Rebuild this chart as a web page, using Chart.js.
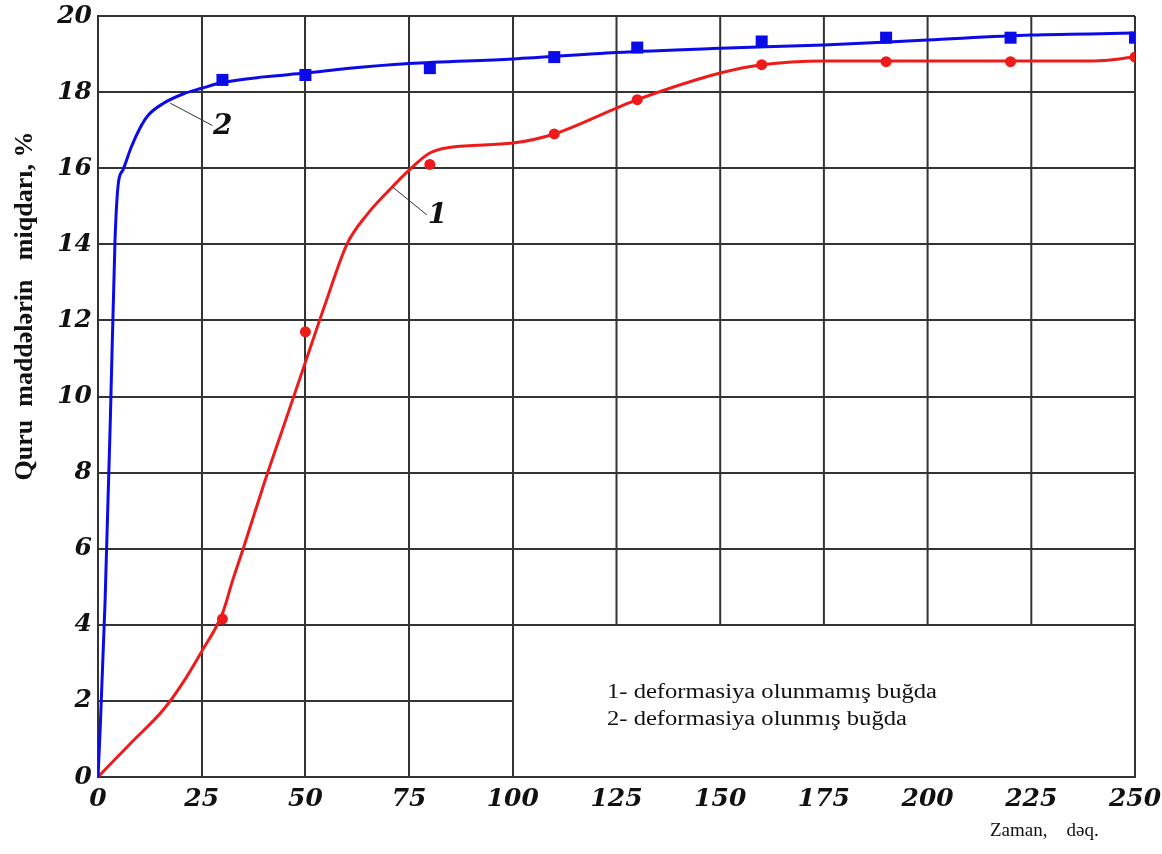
<!DOCTYPE html>
<html>
<head>
<meta charset="utf-8">
<script src="https://cdn.jsdelivr.net/npm/chart.js@4.4.1/dist/chart.umd.min.js"></script>
<style>
  html, body { margin: 0; padding: 0; background: #fff; }
  #chart { display: block; }
</style>
</head>
<body>
<canvas id="chart" width="1162" height="854"></canvas>
<script>
// tick labels
const xTicks = [0, 25, 50, 75, 100, 125, 150, 175, 200, 225, 250];
const yTicks = [0, 2, 4, 6, 8, 10, 12, 14, 16, 18, 20];

// measured points (both curves share the same times)
const markX = [30, 50, 80, 110, 130, 160, 190, 220, 250];
const markY1 = [4.15, 11.7, 16.1, 16.9, 17.8, 18.72, 18.8, 18.8, 18.92];
const markY2 = [18.32, 18.45, 18.63, 18.92, 19.17, 19.33, 19.43, 19.43, 19.43];

// curve 1 - deformasiya olunmamış buğda
const curveX1 = [0, 8, 15.7, 20, 25, 30, 32.5, 35, 40, 45, 50, 55, 60, 65, 70, 75, 80, 85, 100, 110, 125, 130, 150, 160, 175, 240, 250];
const curveY1 = [0, 0.9, 1.76, 2.4, 3.3, 4.3, 5.18, 6.0, 7.7, 9.3, 10.9, 12.5, 14.0, 14.8, 15.4, 15.95, 16.4, 16.55, 16.66, 16.9, 17.58, 17.8, 18.5, 18.72, 18.82, 18.82, 18.92];

// curve 2 - deformasiya olunmış buğda
const curveX2 = [0, 0.5, 1.7, 3, 4.1, 4.9, 6, 8, 10.1, 12, 15.7, 20.5, 25, 30, 40, 50, 60, 75, 100, 125, 150, 175, 200, 225, 250];
const curveY2 = [0, 1.2, 4.6, 9.5, 14.1, 15.6, 15.95, 16.55, 17.05, 17.38, 17.7, 17.95, 18.1, 18.25, 18.4, 18.5, 18.62, 18.75, 18.87, 19.04, 19.15, 19.24, 19.37, 19.5, 19.55];

const RED = "#ee1b1b";
const BLUE = "#0b0be8";
const GRID = "#333";

const zip = (xs, ys) => xs.map((x, i) => ({ x, y: ys[i] }));

// drop the extra room chart.js keeps for overhanging tick labels
function noLabelPadding(s) {
  s.paddingTop = 0;
  s.paddingBottom = 0;
  s.paddingLeft = 0;
  s.paddingRight = 0;
}

// grid pieces that only run part way (legend area in lower right)
const partialGrid = {
  id: "partialGrid",
  beforeDatasetsDraw(c) {
    const { ctx, scales: { x, y } } = c;
    ctx.save();
    ctx.strokeStyle = GRID;
    ctx.lineWidth = 2;
    ctx.beginPath();
    ctx.moveTo(x.getPixelForValue(0), y.getPixelForValue(2));
    ctx.lineTo(x.getPixelForValue(100), y.getPixelForValue(2));
    [125, 150, 175, 200, 225].forEach((v) => {
      ctx.moveTo(x.getPixelForValue(v), y.getPixelForValue(4));
      ctx.lineTo(x.getPixelForValue(v), y.getPixelForValue(20));
    });
    ctx.stroke();
    ctx.restore();
  },
};

const labels = {
  id: "labels",
  afterDraw(c) {
    const { ctx, scales: { x, y } } = c;
    ctx.save();
    ctx.fillStyle = "#111";
    ctx.strokeStyle = "#333";
    ctx.lineWidth = 1;

    // leader lines to the curve numbers
    ctx.beginPath();
    ctx.moveTo(x.getPixelForValue(17.4), y.getPixelForValue(17.71));
    ctx.lineTo(x.getPixelForValue(27.6), y.getPixelForValue(17.12));
    ctx.moveTo(x.getPixelForValue(71.1), y.getPixelForValue(15.5));
    ctx.lineTo(x.getPixelForValue(79.3), y.getPixelForValue(14.77));
    ctx.stroke();

    ctx.font = "italic bold 28px 'DejaVu Serif'";
    ctx.textBaseline = "middle";
    ctx.textAlign = "left";
    ctx.fillText("2", x.getPixelForValue(27.7), y.getPixelForValue(17.1));
    ctx.fillText("1", x.getPixelForValue(79.5), y.getPixelForValue(14.74));

    // legend text
    ctx.font = "20px 'Liberation Serif'";
    ctx.textBaseline = "alphabetic";
    [["1- deformasiya olunmamış buğda", 698], ["2- deformasiya olunmış buğda", 725]].forEach(([t, yy]) => {
      ctx.save();
      ctx.translate(607, yy);
      ctx.scale(1.23, 1);
      ctx.fillText(t, 0, 0);
      ctx.restore();
    });

    // x axis title
    ctx.font = "19px 'Liberation Serif'";
    ctx.fillText("Zaman,    dəq.", 990, 836);

    // y axis title
    ctx.save();
    ctx.translate(25, 306);
    ctx.rotate(-Math.PI / 2);
    ctx.font = "bold 26px 'Liberation Serif'";
    ctx.textAlign = "center";
    ctx.textBaseline = "middle";
    ctx.fillText("Quru  maddələrin   miqdarı, %", 0, 0);
    ctx.restore();

    ctx.restore();
  },
};

const tickFont = { family: "'DejaVu Serif'", size: 25, style: "italic", weight: "bold" };

new Chart(document.getElementById("chart"), {
  type: "scatter",
  data: {
    datasets: [
      {
        label: "2",
        data: zip(curveX2, curveY2),
        showLine: true,
        borderColor: BLUE,
        borderWidth: 3,
        pointRadius: 0,
        cubicInterpolationMode: "monotone",
      },
      {
        label: "1",
        data: zip(curveX1, curveY1),
        showLine: true,
        borderColor: RED,
        borderWidth: 3,
        pointRadius: 0,
        cubicInterpolationMode: "monotone",
      },
      {
        label: "2 points",
        data: zip(markX, markY2),
        pointStyle: "rect",
        pointRadius: 8.5,
        pointBorderWidth: 0,
        backgroundColor: BLUE,
        clip: 0,
      },
      {
        label: "1 points",
        data: zip(markX, markY1),
        pointStyle: "circle",
        pointRadius: 5.5,
        pointBorderWidth: 0,
        backgroundColor: RED,
        clip: 0,
      },
    ],
  },
  options: {
    responsive: false,
    animation: false,
    layout: { autoPadding: false, padding: { top: 16, right: 27, bottom: 0, left: 0 } },
    plugins: { legend: { display: false }, tooltip: { enabled: false } },
    scales: {
      x: {
        type: "linear",
        min: 0,
        max: 250,
        afterBuildTicks: (s) => { s.ticks = xTicks.map((v) => ({ value: v })); },
        afterFit: (s) => { s.height = 77; noLabelPadding(s); },
        ticks: { font: tickFont, color: "#111", padding: 7, maxRotation: 0, autoSkip: false },
        grid: {
          drawTicks: false,
          lineWidth: 2,
          color: (c) => ([125, 150, 175, 200, 225].includes(c.tick && c.tick.value) ? "rgba(0,0,0,0)" : GRID),
        },
        border: { color: GRID, width: 2 },
      },
      y: {
        min: 0,
        max: 20,
        afterBuildTicks: (s) => { s.ticks = yTicks.map((v) => ({ value: v })); },
        afterFit: (s) => { s.width = 98; noLabelPadding(s); },
        ticks: { font: tickFont, color: "#111", padding: 6, autoSkip: false },
        grid: {
          drawTicks: false,
          lineWidth: 2,
          color: (c) => (c.tick && c.tick.value === 2 ? "rgba(0,0,0,0)" : GRID),
        },
        border: { color: GRID, width: 2 },
      },
    },
  },
  plugins: [partialGrid, labels],
});
</script>
</body>
</html>
